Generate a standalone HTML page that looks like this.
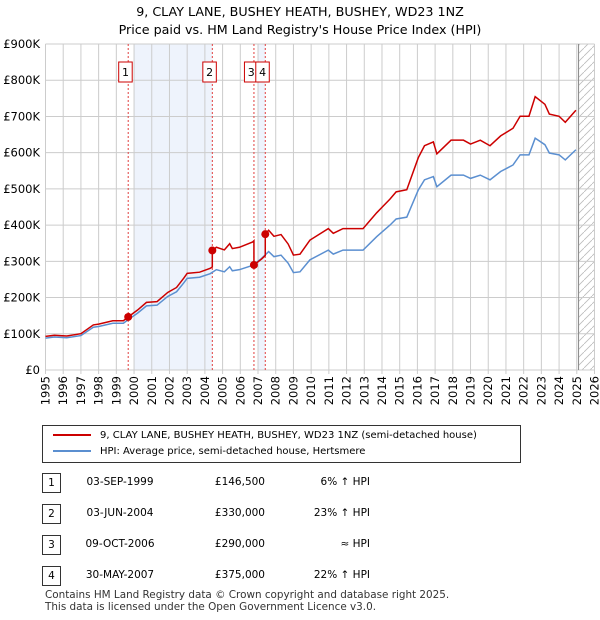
<!DOCTYPE html>
<html><head><meta charset="utf-8"><style>
body{margin:0;background:#fff;font-family:"DejaVu Sans","Liberation Sans",sans-serif;}
#wrap{position:relative;width:600px;height:620px;overflow:hidden;}
.t{position:absolute;font-size:12px;color:#000;white-space:nowrap;}
</style></head><body>
<div id="wrap">
<div class="t" style="left:0;width:600px;text-align:center;top:3px;font-size:12.7px;line-height:18px;">9, CLAY LANE, BUSHEY HEATH, BUSHEY, WD23 1NZ<br>Price paid vs. HM Land Registry's House Price Index (HPI)</div>
<svg id="chart" width="600" height="410" style="position:absolute;left:0;top:0;font-family:'DejaVu Sans','Liberation Sans',sans-serif"></svg>
<div style="position:absolute;left:42px;top:425px;width:477px;height:36px;border:1px solid #333;">
 <div style="position:absolute;left:10px;top:4px;font-size:10px;white-space:nowrap;"><span style="display:inline-block;width:38px;height:2px;background:#cc0000;vertical-align:middle;margin-right:9px"></span>9, CLAY LANE, BUSHEY HEATH, BUSHEY, WD23 1NZ (semi-detached house)</div>
 <div style="position:absolute;left:10px;top:20px;font-size:10px;white-space:nowrap;"><span style="display:inline-block;width:38px;height:2px;background:#5b8fd0;vertical-align:middle;margin-right:9px"></span>HPI: Average price, semi-detached house, Hertsmere</div>
</div>
<div id="table"></div>
<div class="t" style="left:45px;top:589px;font-size:10.4px;line-height:12px;color:#333">Contains HM Land Registry data © Crown copyright and database right 2025.<br>This data is licensed under the Open Government Licence v3.0.</div>
</div>
<script>
const hpiYears=[1995.0,1995.5,1996.2,1997.0,1997.7,1998.0,1998.8,1999.4,1999.7,2000.2,2000.7,2001.3,2001.9,2002.4,2002.8,2003.0,2003.7,2004.3,2004.65,2005.1,2005.4,2005.55,2005.95,2006.7,2007.2,2007.6,2007.9,2008.3,2008.7,2009.0,2009.37,2009.93,2010.97,2011.25,2011.8,2012.93,2013.7,2014.45,2014.8,2015.4,2016.05,2016.4,2016.9,2017.1,2017.9,2018.6,2019.0,2019.55,2020.1,2020.7,2021.4,2021.8,2022.3,2022.65,2023.2,2023.45,2024.0,2024.35,2024.95];
const hpiValues=[88,91,89,95,118,120,129,129,140,157,177,179,203,216,240,253,256,266,277,271,285,274,277,289,308,327,313,317,295,269,271,304,331,320,331,331,368,400,417,422,497,525,534,506,538,538,529,538,525,548,566,594,594,640,622,599,594,580,608];
const saleLabels=["1","2","3","4"];
const saleDates=[1999.67,2004.42,2006.77,2007.41];
const salePrices=[146.5,330,290,375];
const saleDateText=["03-SEP-1999","03-JUN-2004","09-OCT-2006","30-MAY-2007"];
const salePriceText=["£146,500","£330,000","£290,000","£375,000"];
const saleHpiText=["6% ↑ HPI","23% ↑ HPI","≈ HPI","22% ↑ HPI"];
const yTicks=[0,100,200,300,400,500,600,700,800,900];
const yTickLabels=["£0","£100K","£200K","£300K","£400K","£500K","£600K","£700K","£800K","£900K"];
const xTicks=[1995,1996,1997,1998,1999,2000,2001,2002,2003,2004,2005,2006,2007,2008,2009,2010,2011,2012,2013,2014,2015,2016,2017,2018,2019,2020,2021,2022,2023,2024,2025,2026];

const X0=45.5,X1=594.5,Y0=370,Y1=44;
const xs=y=>X0+(y-1995)/(2026-1995)*(X1-X0);
const ys=v=>Y0-v/900*(Y0-Y1);
const NS="http://www.w3.org/2000/svg";
const svg=document.getElementById('chart');
function mk(tag,at,parent){const e=document.createElementNS(NS,tag);for(const k in at)e.setAttribute(k,at[k]);(parent||svg).appendChild(e);return e;}
function hpiAt(t){if(t<=hpiYears[0])return hpiValues[0];for(let i=1;i<hpiYears.length;i++){if(t<=hpiYears[i]){const f=(t-hpiYears[i-1])/(hpiYears[i]-hpiYears[i-1]);return hpiValues[i-1]+f*(hpiValues[i]-hpiValues[i-1]);}}return hpiValues[hpiValues.length-1];}

let r=mk('rect',{x:xs(2000.0),y:Y1,width:xs(saleDates[1])-xs(2000.0),height:Y0-Y1,fill:'#eef3fc'});

r=mk('rect',{x:xs(2007.0),y:Y1,width:xs(saleDates[3])-xs(2007.0),height:Y0-Y1,fill:'#eef3fc'});

const defs=mk('defs',{});
const pat=mk('pattern',{id:'hatch',width:8,height:8,patternUnits:'userSpaceOnUse'},defs);
mk('path',{d:'M0,8 L8,0',stroke:'#bbb','stroke-width':0.8},pat);
r=mk('rect',{x:xs(2025.1),y:Y1,width:X1-xs(2025.1),height:Y0-Y1,fill:'url(#hatch)'});

xTicks.forEach((t,i)=>{
 const l=mk('line',{x1:xs(t),x2:xs(t),y1:Y1,y2:Y0+4,stroke:'#cccccc','stroke-width':1});
 
 const tx=mk('text',{x:0,y:0,'font-size':11.5,'text-anchor':'end',transform:`translate(${xs(t)+4},${Y0+6}) rotate(-90)`});
 tx.textContent=t;
 
});
yTicks.forEach((v,i)=>{
 const l=mk('line',{x1:X0,x2:X1,y1:ys(v),y2:ys(v),stroke:'#cccccc','stroke-width':1});
 
 const tx=mk('text',{x:40,y:ys(v)+4,'font-size':11.5,'text-anchor':'end'});
 tx.textContent=yTickLabels[i];
 
});
let vl=mk('line',{x1:xs(2025.1),x2:xs(2025.1),y1:Y1,y2:Y0,stroke:'#888','stroke-width':1});

saleDates.forEach((d,i)=>{
 const l=mk('line',{x1:xs(d),x2:xs(d),y1:Y1,y2:Y0,stroke:'#e04040','stroke-width':1,'stroke-dasharray':'2,2'});
 
 const b=mk('rect',{x:xs(d)-9.5,y:62,width:13.5,height:20,fill:'#fff',stroke:'#cc0000','stroke-width':1});
 
 const tx=mk('text',{x:xs(d)-2.7,y:76,'font-size':11,'text-anchor':'middle'});
 tx.textContent=saleLabels[i];
 
});
let bp=[];hpiYears.forEach((t,i)=>bp.push([xs(t),ys(hpiValues[i])]));
function ratioAt(t){let k=0;while(k<saleDates.length-1&&t>=saleDates[k+1])k++;return salePrices[k]/hpiAt(saleDates[k]);}
let times=[...hpiYears];saleDates.forEach(d=>{times.push(d-0.001);times.push(d);});times.sort((a,b)=>a-b);
let rp=times.map(t=>[xs(t),ys(hpiAt(t)*ratioAt(t))]);
let p=mk('polyline',{points:bp.map(q=>q.join(',')).join(' '),fill:'none',stroke:'#5b8fd0','stroke-width':1.5});

p=mk('polyline',{points:rp.map(q=>q.join(',')).join(' '),fill:'none',stroke:'#cc0000','stroke-width':1.5});

saleDates.forEach((d,i)=>{
 const c=mk('circle',{cx:xs(d),cy:ys(salePrices[i]),r:4,fill:'#cc0000'});
 
});
const tb=document.getElementById('table');
const rowY=[473,504,535,566];
saleLabels.forEach((s,i)=>{
 const row=document.createElement('div');
 
 
 row.style.cssText=`position:absolute;left:0;top:${rowY[i]}px;width:600px;height:20px;font-size:10.5px;`;
 row.innerHTML=`<div style="position:absolute;left:42px;top:0;width:17px;height:18px;border:1px solid #333;text-align:center;line-height:18px">${s}</div>`+
 `<div style="position:absolute;left:60px;width:120px;text-align:center;top:3px">${saleDateText[i]}</div>`+
 `<div style="position:absolute;left:190px;width:75px;text-align:right;top:3px">${salePriceText[i]}</div>`+
 `<div style="position:absolute;left:270px;width:100px;text-align:right;top:3px">${saleHpiText[i]}</div>`;
 tb.appendChild(row);
});
</script>
</body></html>
